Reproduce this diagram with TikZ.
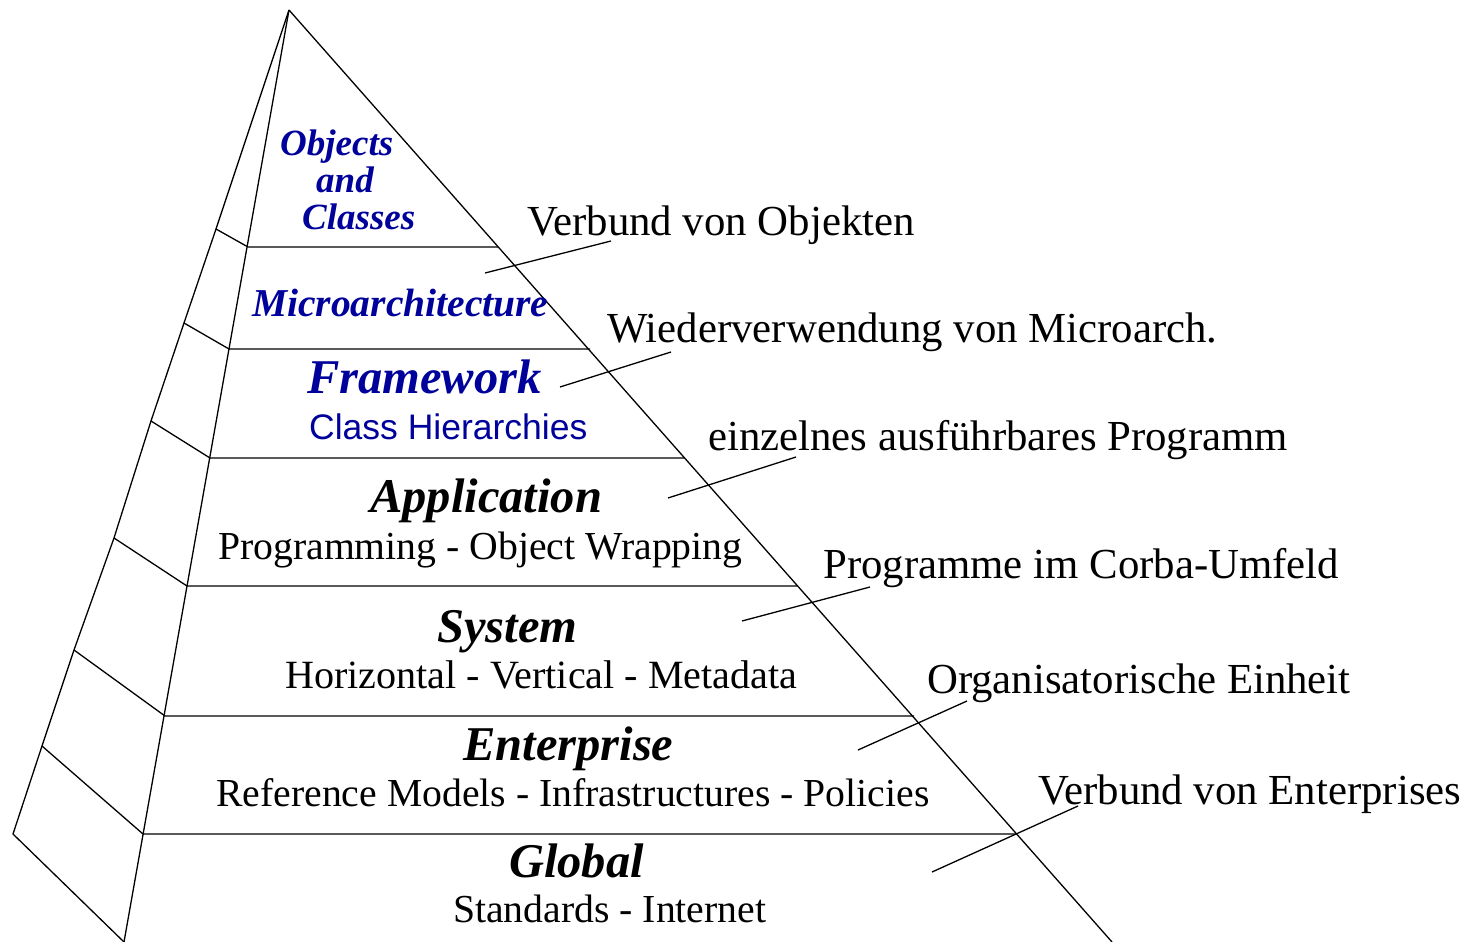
\documentclass[tikz,border=0pt]{standalone}
\usepackage{fontspec}
\setmainfont{Liberation Serif}
\newfontfamily\helv{Liberation Sans}
\definecolor{layerblue}{RGB}{0,0,155}
\begin{document}
\begin{tikzpicture}[x=1pt,y=-1pt,
  edge/.style={line width=1.3pt, line join=round},
  txt/.style={inner sep=0pt, anchor=base west},
  head/.style={txt, font=\fontsize{48.5}{48}\selectfont\bfseries\itshape},
  sub/.style={txt, font=\fontsize{39.7}{40}\selectfont},
  bluehead/.style={head, text=layerblue},
  topblue/.style={txt, font=\fontsize{37}{37}\selectfont\bfseries\itshape, text=layerblue},
  note/.style={txt, font=\fontsize{42.8}{43}\selectfont},
  leader/.style={line width=1.3pt}]
\useasboundingbox (0,0) rectangle (1467,942);

% pyramid outline
\coordinate (apex) at (289,10);
\coordinate (front) at (124,942);
\coordinate (right) at (1112,942);
\coordinate (back) at (13,834);
\draw[edge] (apex) -- (front);
\draw[edge] (apex) -- (right);
\draw[edge] (apex) -- (216,229) -- (184,323) -- (151,421) -- (114,538)
  -- (74,650) -- (42,746) -- (back) -- (front);

% layer boundaries: front face and side face
\draw[edge] (216,229) -- (248,247) -- (498,247);
\draw[edge] (184,323) -- (229,349) -- (590,349);
\draw[edge] (151,421) -- (210,458) -- (684,458);
\draw[edge] (114,538) -- (187,586) -- (797,586);
\draw[edge] (74,650)  -- (165,716) -- (914,716);
\draw[edge] (42,746)  -- (143,834) -- (1017,834);

% layer labels
\node[topblue] (obj1) at (280,155) {Objects};
\node[topblue] (obj2) at (316,192) {and};
\node[topblue] (obj3) at (302,229) {Classes};
\node[topblue, font=\fontsize{39.5}{40}\selectfont\bfseries\itshape] (micro) at (252,316) {Microarchitecture};
\node[bluehead] (frame) at (307,393) {Framework};
\node[txt, font=\helv\fontsize{35.5}{36}\selectfont, text=layerblue] (hier) at (309,439) {Class Hierarchies};
\node[head] (app) at (370,512) {Application};
\node[sub] (appsub) at (218,559) {Programming - Object Wrapping};
\node[head] (sys) at (437,642) {System};
\node[sub, font=\fontsize{40.1}{40}\selectfont] (syssub) at (285,688) {Horizontal - Vertical - Metadata};
\node[head] (ent) at (463,760) {Enterprise};
\node[sub] (entsub) at (216,806) {Reference Models - Infrastructures - Policies};
\node[head] (glob) at (509,877) {Global};
\node[sub] (globsub) at (453,922) {Standards - Internet};

% annotations on the right
\node[note] (n1) at (527,235) {Verbund von Objekten};
\node[note] (n2) at (607,342) {Wiederverwendung von Microarch.};
\node[note] (n3) at (708,450) {einzelnes ausführbares Programm};
\node[note] (n4) at (823,578) {Programme im Corba-Umfeld};
\node[note] (n5) at (927,693) {Organisatorische Einheit};
\node[note] (n6) at (1038,804) {Verbund von Enterprises};

% leader lines from layers to annotations
\coordinate (l1a) at (485,273); \coordinate (l1b) at (611,241);
\coordinate (l2a) at (560,387); \coordinate (l2b) at (671,352);
\coordinate (l3a) at (668,498); \coordinate (l3b) at (796,457);
\coordinate (l4a) at (742,621); \coordinate (l4b) at (870,587);
\coordinate (l5a) at (858,750); \coordinate (l5b) at (967,701);
\coordinate (l6a) at (932,872); \coordinate (l6b) at (1078,806);
\draw[leader] (l1a) -- (l1b);
\draw[leader] (l2a) -- (l2b);
\draw[leader] (l3a) -- (l3b);
\draw[leader] (l4a) -- (l4b);
\draw[leader] (l5a) -- (l5b);
\draw[leader] (l6a) -- (l6b);
\end{tikzpicture}
\end{document}
